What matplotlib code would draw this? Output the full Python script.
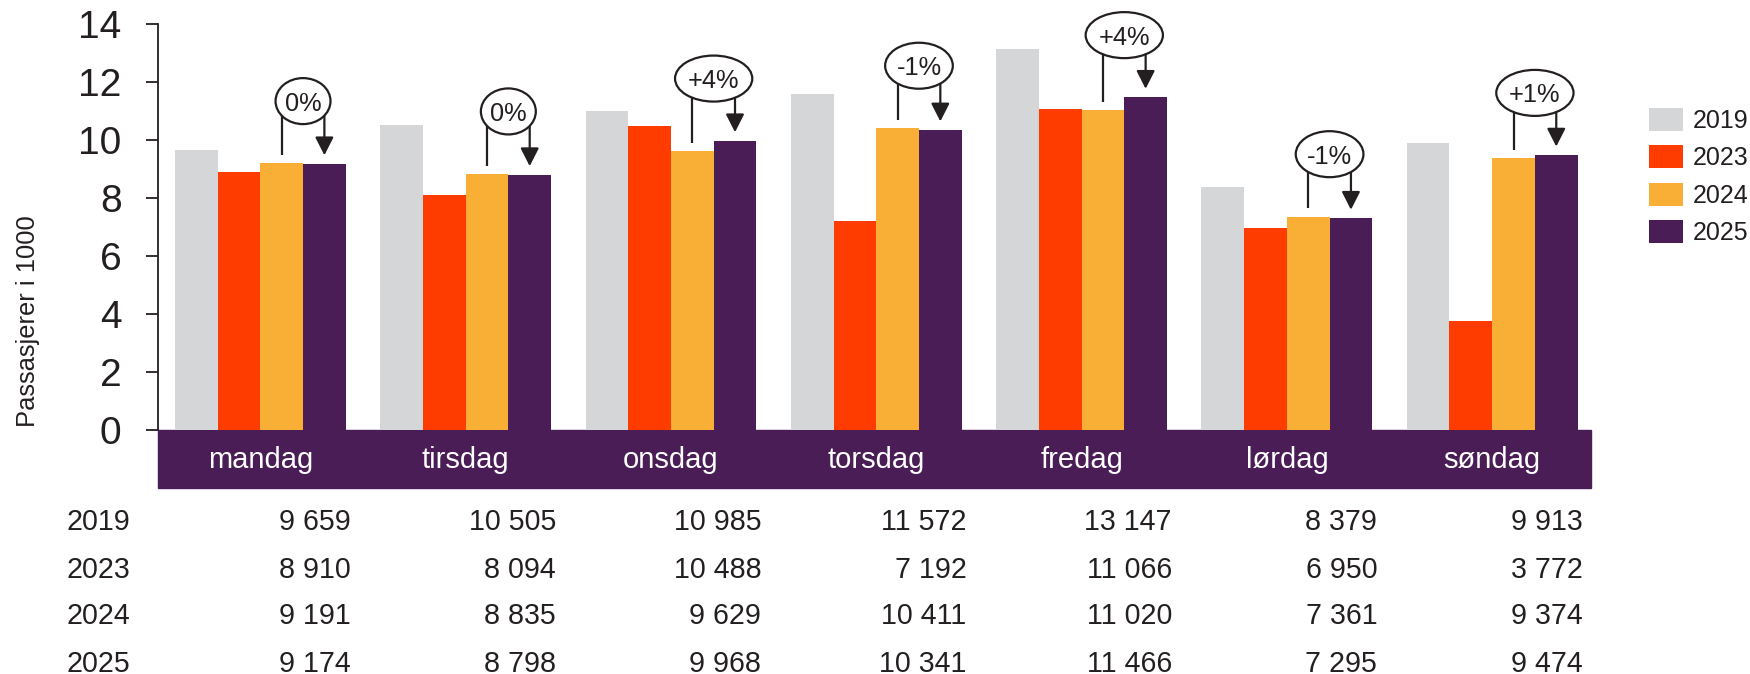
import numpy as np
import matplotlib
matplotlib.use('Agg')
import matplotlib.pyplot as plt
import matplotlib.transforms as mtransforms
from matplotlib.patches import Rectangle, Ellipse

plt.rcParams['font.family'] = ['Liberation Sans', 'DejaVu Sans']

days = ['mandag', 'tirsdag', 'onsdag', 'torsdag', 'fredag', 'lørdag', 'søndag']
years = ['2019', '2023', '2024', '2025']
v2019 = [9659, 10505, 10985, 11572, 13147, 8379, 9913]
v2023 = [8910, 8094, 10488, 7192, 11066, 6950, 3772]
v2024 = [9191, 8835, 9629, 10411, 11020, 7361, 9374]
v2025 = [9174, 8798, 9968, 10341, 11466, 7295, 9474]
changes = ['0%', '0%', '+4%', '-1%', '+4%', '-1%', '+1%']

colors = ['#d5d6d8', '#ff3c00', '#f9ae35', '#4a1d57']
dark = '#231f20'

fig = plt.figure(figsize=(17.5, 6.74), dpi=100)
ax = fig.add_axes([0.0901, 0.362, 0.8189, 0.6024])

series = [v2019, v2023, v2024, v2025]
x = np.arange(len(days))
w = 0.208
for k, (vals, c, yr) in enumerate(zip(series, colors, years)):
    ax.bar(x + (k - 1.5) * w, np.array(vals) / 1000, w, color=c, label=yr, zorder=2)

ax.set_xlim(-0.5, 6.48)
ax.set_ylim(0, 14)
ax.set_yticks(range(0, 15, 2))
ax.set_xticks([])
for s in ['top', 'right', 'bottom']:
    ax.spines[s].set_visible(False)
ax.spines['left'].set_color(dark)
ax.spines['left'].set_linewidth(1.3)
ax.tick_params(axis='y', length=9, width=1.3, color=dark, labelsize=28,
               labelcolor=dark, pad=17)

# purple band with weekday names
band = Rectangle((0, -2.0), 1, 2.0, transform=mtransforms.blended_transform_factory(ax.transAxes, ax.transData),
                 color=colors[3], clip_on=False, zorder=1)
ax.add_patch(band)
for i, d in enumerate(days):
    ax.text(x[i], -1.05, d, color='white', fontsize=21, ha='center', va='center', clip_on=False)

# pixel size of one data unit, used to size the ellipses
p0 = ax.transData.transform((0, 0))
p1 = ax.transData.transform((1, 1))
ppx, ppy = p1[0] - p0[0], p1[1] - p0[1]
renderer = fig.canvas.get_renderer()

# change annotations 2024 -> 2025
for i in range(len(days)):
    xo = x[i] + 0.5 * w
    xp = x[i] + 1.5 * w
    yo = v2024[i] / 1000
    yp = v2025[i] / 1000
    yc = max(yo, yp) + 2.15
    ax.plot([xo, xo], [yo + 0.28, yc], color=dark, lw=1.6, zorder=4, solid_capstyle='butt')
    ax.annotate('', xy=(xp, yp + 0.3), xytext=(xp, yc),
                arrowprops=dict(arrowstyle='-|>,head_length=0.55,head_width=0.28', color=dark,
                                lw=1.6, shrinkA=0, shrinkB=0, mutation_scale=20), zorder=4)
    t = ax.text(x[i] + w, yc - 0.33, changes[i], ha='center', va='baseline', fontsize=18.3,
                color=dark, zorder=6, clip_on=False)
    tw = t.get_window_extent(renderer).width
    ax.add_patch(Ellipse((x[i] + w, yc), tw * 1.5 / ppx, 46 / ppy, fc='white', ec=dark,
                         lw=1.6, zorder=5, clip_on=False))

fig.text(27.5 / 1750, 1 - 321 / 674, 'Passasjerer i 1000', rotation=90, ha='center', va='center',
         fontsize=18.4, color=dark)

ax.legend(loc='upper left', bbox_to_anchor=(1649 / 1750, 1 - 108 / 674), bbox_transform=fig.transFigure,
          frameon=False, fontsize=18, handlelength=1.36, handleheight=1.03, handletextpad=0.4,
          labelspacing=0.5, borderpad=0, borderaxespad=0, labelcolor=dark)

# value table under the chart
tr = mtransforms.blended_transform_factory(ax.transData, fig.transFigure)
for r, (yr, vals) in enumerate(zip(years, series)):
    yb = 1 - (530.5 + 47 * r) / 674
    fig.text(67 / 1750, yb, yr, ha='left', va='baseline', fontsize=20.6, color=dark)
    for i, v in enumerate(vals):
        ax.text(x[i] + 0.44, yb, f'{v:,}'.replace(',', ' '), transform=tr, ha='right', va='baseline',
                fontsize=20.6, color=dark, clip_on=False)

fig.savefig('out.png', dpi=100)
